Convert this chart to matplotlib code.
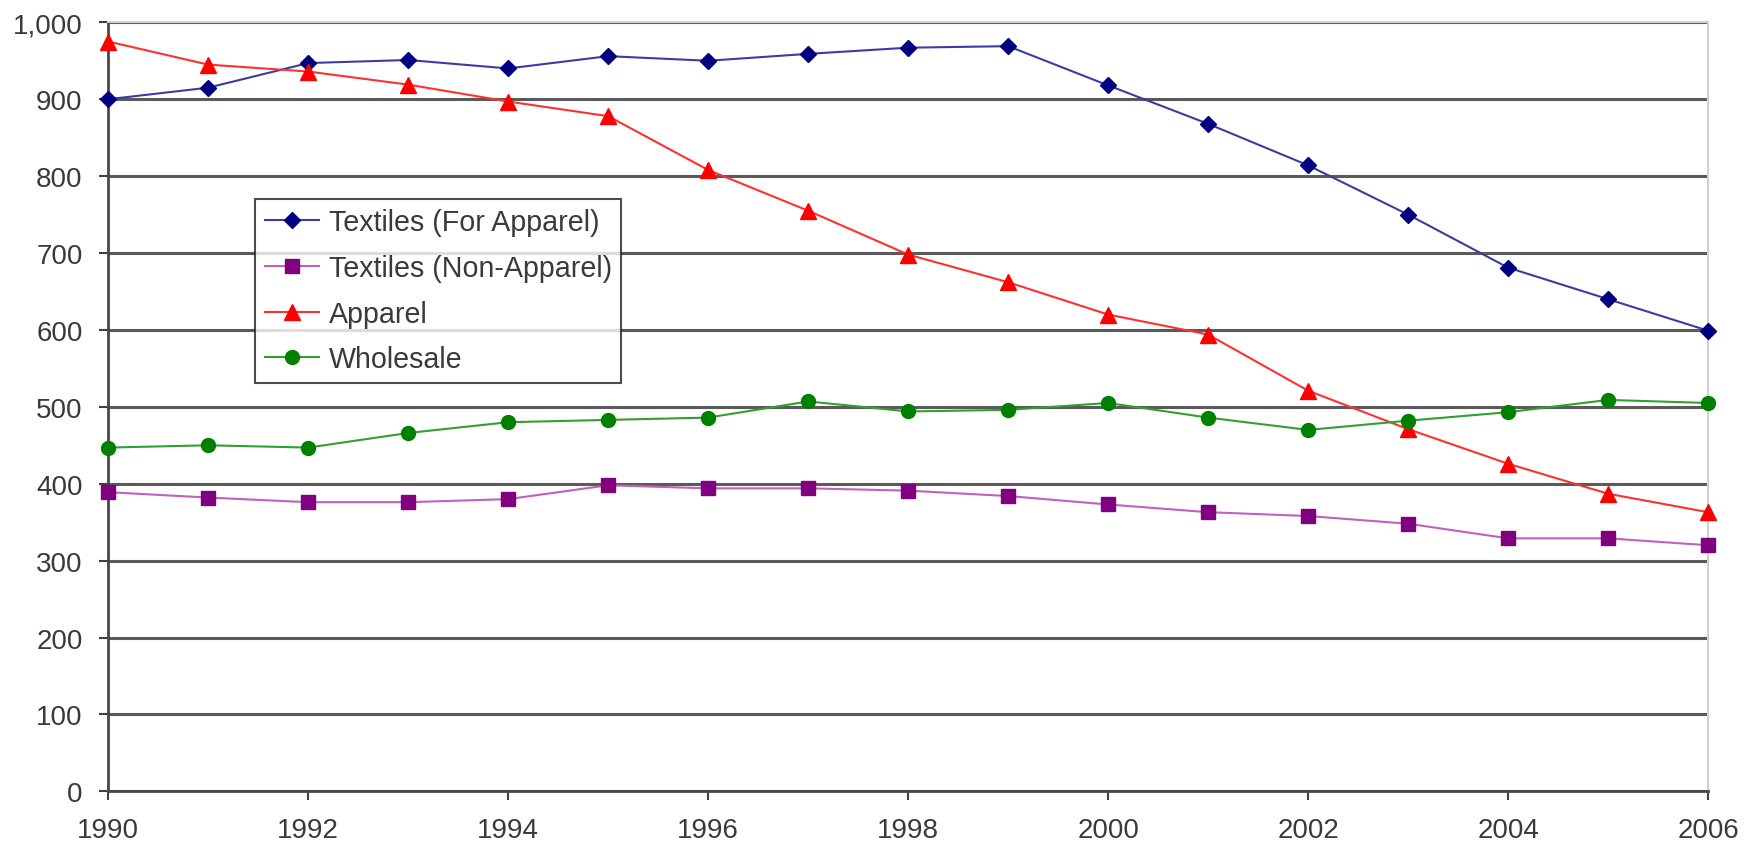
import matplotlib

matplotlib.use("Agg")
import matplotlib.pyplot as plt
from matplotlib.ticker import FuncFormatter

plt.rcParams["font.family"] = ["Liberation Sans", "DejaVu Sans"]

years = list(range(1990, 2007))

# values
textiles_apparel = [900, 915, 947, 951, 940, 956, 950, 959, 967, 969, 918,
                    868, 814, 750, 681, 640, 599]
textiles_non_apparel = [389, 382, 376, 376, 380, 398, 394, 394, 391, 384, 373,
                        363, 358, 348, 329, 329, 320]
apparel = [975, 945, 936, 919, 897, 878, 808, 755, 698, 662, 620,
           594, 521, 471, 426, 387, 363]
wholesale = [447, 450, 447, 466, 480, 483, 486, 507, 494, 496, 505,
             486, 470, 482, 493, 509, 505]

x_ticks = list(range(1990, 2007, 2))
y_ticks = list(range(0, 1001, 100))

fig = plt.figure(figsize=(17.54, 8.54), dpi=100)
ax = fig.add_axes([0.0617, 0.0722, 0.9121, 0.9005])

# horizontal gridlines, drawn under the data
ax.set_axisbelow(True)
ax.yaxis.grid(True, color="#5a5a5a", linewidth=2.2)
ax.xaxis.grid(False)

series = [
    ("Textiles (For Apparel)", textiles_apparel, "#3c3ca0", "#000080", "D", 8.6),
    ("Textiles (Non-Apparel)", textiles_non_apparel, "#c060c0", "#800080", "s", 10),
    ("Apparel", apparel, "#ff3030", "#ff0000", "^", 11),
    ("Wholesale", wholesale, "#30a030", "#008000", "o", 10),
]
for label, vals, line_c, mark_c, marker, ms in series:
    ax.plot(years, vals, color=line_c, linewidth=1.5, marker=marker,
            markersize=ms, markerfacecolor=mark_c, markeredgecolor=mark_c,
            label=label, clip_on=False, zorder=3)

ax.set_xlim(1990, 2006)
ax.set_ylim(0, 1000)
ax.set_xticks(x_ticks)
ax.set_yticks(y_ticks)
ax.yaxis.set_major_formatter(FuncFormatter(lambda v, _p: f"{int(v):,}"))

ax.tick_params(axis="both", direction="out", length=6.5, width=1.5,
               color="#404040", labelcolor="#3a3a3a", labelsize=20)
ax.tick_params(axis="y", pad=12)
ax.tick_params(axis="x", pad=12)

for side in ("left", "bottom"):
    ax.spines[side].set_color("#484848")
    ax.spines[side].set_linewidth(2)
for side in ("top", "right"):
    ax.spines[side].set_color("#d0d0d0")
    ax.spines[side].set_linewidth(1.5)

leg = ax.legend(loc="upper left", bbox_to_anchor=(0.092, 0.7702),
                borderaxespad=0, fontsize=20.6, frameon=True, fancybox=False,
                handlelength=1.9, handletextpad=0.35, labelspacing=0.62,
                borderpad=0.32)
leg.get_frame().set_edgecolor("#202020")
leg.get_frame().set_linewidth(1.5)
for t in leg.get_texts():
    t.set_color("#3a3a3a")

fig.savefig("out.png", dpi=100)
